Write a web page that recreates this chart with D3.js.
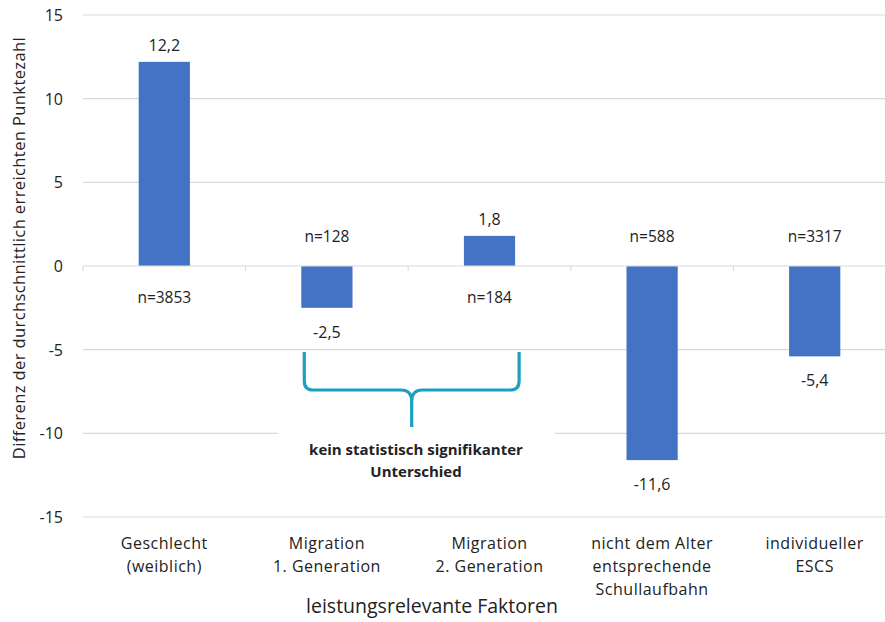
<!DOCTYPE html>
<html><head><meta charset="utf-8">
<script src="https://cdn.jsdelivr.net/npm/d3@7"></script>
<style>body{margin:0;background:#fff;} svg{display:block;} text{font-family:"Open Sans",Lato,sans-serif;fill:#222;}</style>
</head><body>
<svg id="c" width="885" height="622"></svg>
<script>
const categories = [["Geschlecht","(weiblich)"],["Migration","1. Generation"],["Migration","2. Generation"],["nicht dem Alter","entsprechende","Schullaufbahn"],["individueller","ESCS"]];
const values = [12.2, -2.5, 1.8, -11.6, -5.4];
const valueLabels = ["12,2","-2,5","1,8","-11,6","-5,4"];
const nLabels = ["n=3853","n=128","n=184","n=588","n=3317"];
const yTicks = [15,10,5,0,-5,-10,-15];
const yTitle = "Differenz der durchschnittlich erreichten Punktezahl";
const xTitle = "leistungsrelevante Faktoren";
const noteLines = ["kein statistisch signifikanter","Unterschied"];

(function(){
const svg = d3.select("#c");
const ids = categories.map((c,i)=>i);
const x = d3.scaleBand().domain(ids).range([83, 896]).padding(0);
const y = d3.scaleLinear().domain([-15,15]).range([517,15]);
const bw = x.bandwidth()*0.315;
const cx = i => x(i)+x.bandwidth()/2;

// gridlines
svg.append("g").selectAll("line").data(yTicks.filter(d=>d!==0)).join("line")
  .attr("x1",83).attr("x2",896).attr("y1",d=>y(d)).attr("y2",d=>y(d))
  .attr("stroke","#d9d9d9").attr("stroke-width",1.2);
// y tick labels
svg.append("g").selectAll("text").data(yTicks).join("text")
  .attr("x",63).attr("y",d=>y(d)+6).attr("text-anchor","end")
  .style("font-size","16px").text(d=>d);

// bars
svg.append("g").selectAll("rect").data(values).join("rect")
  .attr("x",(d,i)=>cx(i)-bw/2).attr("width",bw)
  .attr("y",d=>y(Math.max(0,d))).attr("height",d=>Math.abs(y(d)-y(0)))
  .attr("fill","#4472c4");

// zero axis with ticks
svg.append("line").attr("x1",83).attr("x2",896).attr("y1",y(0)).attr("y2",y(0))
  .attr("stroke","#d9d9d9").attr("stroke-width",1.2);
svg.append("g").selectAll("line").data(d3.range(0,6)).join("line")
  .attr("x1",i=>83+i*x.step()).attr("x2",i=>83+i*x.step())
  .attr("y1",y(0)).attr("y2",y(0)+5).attr("stroke","#d9d9d9");

// value labels
svg.append("g").selectAll("text").data(values).join("text")
  .attr("x",(d,i)=>cx(i)).attr("y",d=> d>=0 ? y(d)-11 : y(d)+30)
  .attr("text-anchor","middle").style("font-size","16px").text((d,i)=>valueLabels[i]);
// n labels
svg.append("g").selectAll("text").data(values).join("text")
  .attr("x",(d,i)=>cx(i)).attr("y",d=> d>=0 ? y(0)+37 : y(0)-24)
  .attr("text-anchor","middle").style("font-size","15.5px").text((d,i)=>nLabels[i]);

// category labels
const cg = svg.append("g");
categories.forEach((lines,i)=>{
  lines.forEach((t,j)=>{
    cg.append("text").attr("x",cx(i)).attr("y",549+j*23).attr("text-anchor","middle")
      .style("font-size","16px").style("letter-spacing","0.5px").text(t);
  });
});

// axis titles
svg.append("text").attr("transform",`translate(25,${248}) rotate(-90)`).attr("text-anchor","middle")
  .style("font-size","16.5px").style("letter-spacing","0.4px").text(yTitle);
svg.append("text").attr("x",432).attr("y",613).attr("text-anchor","middle")
  .style("font-size","19.5px").text(xTitle);

// note box
const L = cx(1)-bw/2+3, R = cx(2)+bw/2+4, M = (L+R)/2, yTop = 352, hy = 390, tip = 427;
svg.append("rect").attr("x",278).attr("y",429).attr("width",277).attr("height",60).attr("fill","#fff");
svg.append("path").attr("fill","none").attr("stroke","#1aa0c0").attr("stroke-width",3.2)
  .attr("d",`M${L},${yTop} L${L},${hy-9} Q${L},${hy} ${L+9},${hy} L${M-11},${hy} Q${M},${hy} ${M},${hy+11} L${M},${tip} M${M},${hy+11} Q${M},${hy} ${M+11},${hy} L${R-9},${hy} Q${R},${hy} ${R},${hy-9} L${R},${yTop}`);
noteLines.forEach((t,j)=>{
  svg.append("text").attr("x",416).attr("y",455+j*22).attr("text-anchor","middle")
    .style("font-size","15px").style("font-weight","bold").text(t);
});
})();
</script>
</body></html>
